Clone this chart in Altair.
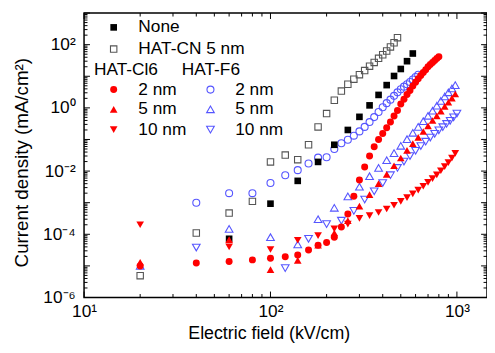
import altair as alt
import pandas as pd

# Electric field (kV/cm) and current density (mA/cm^2)
none_x = [60, 100, 140, 180, 220, 260, 300, 340, 380, 420, 460, 500, 540, 580]
none_y = [7.2e-5, 9.3e-4, 4.9e-3, 1.95e-2, 6.8e-2, 0.20, 0.52, 1.2, 2.57, 5.25,
          10.2, 17, 30, 52.5]

cn_x = [20, 40, 60, 80, 100, 120, 140, 160, 180, 200, 220, 240, 260, 280, 300,
        320, 340, 360, 380, 400, 420, 440, 460, 480]
cn_y = [4.9e-6, 1.1e-4, 4.7e-4, 1.1e-3, 1.95e-2, 3.2e-2, 2.3e-2, 6.8e-2, 0.25,
        0.66, 1.74, 3.4, 5.6, 8.1, 11.2, 15.1, 20.9, 27.5, 37, 48, 63, 85, 115, 166]

cl2_x = [20, 40, 60, 80, 100, 120, 140, 160, 180, 200, 220, 240, 260, 280, 300,
         320, 340, 360, 380, 400, 420, 440, 460, 480, 500, 520, 540, 560, 580, 600,
         620, 640, 660, 680, 700, 720, 740, 760, 780, 800]
cl2_y = [1.0e-5, 1.23e-5, 1.38e-5, 1.55e-5, 1.74e-5, 1.95e-5, 2.2e-5, 3.2e-5, 4.5e-5, 5.5e-5,
         8.1e-5, 1.7e-4, 4.4e-4, 1.6e-3, 5.2e-3, 1.35e-2, 3.0e-2, 5.9e-2, 0.10, 0.155,
         0.234, 0.355, 0.55, 0.83, 1.32, 1.86, 2.63, 3.55, 4.9, 6.46,
         8.3, 10.5, 13.2, 16.2, 20, 23.4, 27.5, 31.6, 36.3, 41.7]

f2_x = [40, 60, 80, 100, 120, 140, 160, 180, 200, 220, 240, 260, 280, 300, 320,
        340, 360, 380, 400, 420, 440, 460, 480, 500, 520, 540, 560, 580, 600, 620]
f2_y = [1.0e-3, 2.0e-3, 2.0e-3, 4.2e-3, 7.4e-3, 1.07e-2, 1.74e-2, 2.66e-2, 2.75e-2, 5.0e-2,
        7.6e-2, 9.8e-2, 0.132, 0.18, 0.25, 0.355, 0.51, 0.74, 1.05, 1.41,
        1.82, 2.4, 3.1, 3.9, 4.7, 5.6, 6.6, 7.9, 9.5, 11.2]

tri_x = [20, 60, 100, 140, 180, 220, 260, 300, 340, 380, 420, 460, 500, 540, 580,
         620, 660, 700, 740, 780, 820, 860, 900, 940, 980]
cl5_y = [1.3e-5, 6.8e-5, 7.6e-6, 1.5e-5, 4.5e-5, 1.1e-4, 2.7e-4, 7.8e-4, 1.8e-3, 4.0e-3,
         7.9e-3, 1.48e-2, 2.6e-2, 4.5e-2, 7.4e-2, 0.117, 0.178, 0.27, 0.40, 0.56,
         0.79, 1.12, 1.51, 2.04, 2.75]
cl10_y = [2.0e-4, 4.0e-5, 3.3e-5, 6.5e-5, 9.1e-5, 1.48e-4, 2.1e-4, 3.2e-4, 3.9e-4, 4.9e-4,
          6.3e-4, 8.3e-4, 1.1e-3, 1.45e-3, 1.9e-3, 2.5e-3, 3.3e-3, 4.4e-3, 5.75e-3, 7.6e-3,
          1.02e-2, 1.38e-2, 1.86e-2, 2.57e-2, 3.63e-2]
f5_y = [1.0e-5, 1.48e-4, 8.1e-5, 4.8e-5, 3.0e-4, 6.9e-4, 1.58e-3, 3.2e-3, 6.9e-3, 1.26e-2,
        2.2e-2, 3.7e-2, 6.3e-2, 0.102, 0.162, 0.25, 0.38, 0.56, 0.81, 1.17,
        1.66, 2.29, 3.1, 4.1, 5.25]

f10_x = [40, 120, 160, 200, 240, 280, 320, 360, 400, 440, 480, 520, 560, 600, 640,
         680, 720, 760, 800, 840, 880, 920, 960, 1000]
f10_y = [3.8e-5, 8.5e-6, 7.2e-5, 2.1e-4, 2.7e-4, 5.5e-4, 1.26e-3, 2.3e-3, 4.2e-3, 7.4e-3,
         1.26e-2, 2.0e-2, 3.0e-2, 4.4e-2, 6.2e-2, 8.5e-2, 0.115, 0.151, 0.195, 0.245,
         0.31, 0.39, 0.50, 0.66]

x_labels = ["10\u00b9", "10\u00b2", "10\u00b3"]
y_labels = ["10\u207b\u2076", "10\u207b\u2075", "10\u207b\u2074", "10\u207b\u00b3",
            "10\u207b\u00b2", "10\u207b\u00b9", "10\u2070", "10\u00b9", "10\u00b2", "10\u00b3"]

W, H = 408, 288
FONT = "Liberation Sans"
RED = "#ff0000"
BLUE = "#5555ff"
GRAY = "#555555"

xs = alt.Scale(type="log", domain=[10, 1450], nice=False)
ys = alt.Scale(type="log", domain=[1e-6, 1e3], nice=False)

xlab_expr = "[" + ",".join("'%s'" % s for s in x_labels) + "][round(log(datum.value)/LN10)-1]"
ylab_expr = "[" + ",".join("'%s'" % s for s in y_labels) + "][round(log(datum.value)/LN10)+6]"

xaxis = alt.Axis(values=[10, 100, 1000], labelExpr=xlab_expr, title="Electric field (kV/cm)",
                 tickSize=0, domain=False, grid=False, labelFlush=False,
                 labelFont=FONT, labelFontSize=17.5, labelColor="black", labelPadding=5,
                 titleFont=FONT, titleFontSize=18, titleFontWeight="normal", titleColor="black",
                 titleX=187, titleY=37, titleBaseline="middle", titleAlign="center")
yaxis = alt.Axis(values=[1e-6, 1e-4, 1e-2, 1, 100], labelExpr=ylab_expr,
                 title="Current density (mA/cm\u00b2)",
                 tickSize=0, domain=False, grid=False, labelFlush=False,
                 labelFont=FONT, labelFontSize=17.5, labelColor="black", labelPadding=9,
                 titleFont=FONT, titleFontSize=19, titleFontWeight="normal", titleColor="black",
                 titleX=-63, titleY=151, titleBaseline="middle", titleAlign="center")


def X():
    return alt.X("x:Q", scale=xs, axis=xaxis)


def Y():
    return alt.Y("y:Q", scale=ys, axis=yaxis)


def series(xv, yv, shape, color, filled, size):
    df = pd.DataFrame({"x": xv, "y": yv})
    return alt.Chart(df).mark_point(shape=shape, filled=filled, color=color, size=size,
                                    opacity=1, strokeWidth=1.1).encode(x=X(), y=Y())


# inward tick marks on all four sides
x_major = [10, 100, 1000]
x_minor = [d * m for m in (10, 100) for d in range(2, 10)]
y_major = [10.0 ** k for k in range(-6, 4)]
y_minor = [d * 10.0 ** k for k in range(-6, 3) for d in range(2, 10)]


def xticks(vals, y1, y2):
    return alt.Chart(pd.DataFrame({"x": vals})).mark_rule(color="black", strokeWidth=1).encode(
        x=X(), y=alt.value(y1), y2=alt.value(y2))


def yticks(vals, x1, x2):
    return alt.Chart(pd.DataFrame({"y": vals})).mark_rule(color="black", strokeWidth=1).encode(
        y=Y(), x=alt.value(x1), x2=alt.value(x2))


ticks = [
    xticks(x_major, H, H - 6), xticks(x_minor, H, H - 3.5),
    xticks(x_major, 0, 6), xticks(x_minor, 0, 3.5),
    yticks(y_major, 0, 6), yticks(y_minor, 0, 3.5),
    yticks(y_major, W, W - 6), yticks(y_minor, W, W - 3.5),
]

one = pd.DataFrame({"a": [0]})


def lpt(px, py, shape, color, filled, size):
    return alt.Chart(one).mark_point(shape=shape, filled=filled, color=color, size=size,
                                     opacity=1, strokeWidth=1.1).encode(
        x=alt.value(px), y=alt.value(py))


def ltxt(px, py, s):
    return alt.Chart(one).mark_text(align="left", baseline="middle", font=FONT, fontSize=17.5,
                                    color="black").encode(
        x=alt.value(px), y=alt.value(py), text=alt.value(s))


legend = [
    lpt(30, 14.5, "square", "black", True, 45), ltxt(55, 14.5, "None"),
    lpt(30, 36.5, "square", GRAY, False, 42), ltxt(55, 36.5, "HAT-CN 5 nm"),
    ltxt(10, 57.5, "HAT-Cl6"), ltxt(99, 57.5, "HAT-F6"),
    lpt(30, 77.5, "circle", RED, True, 50), ltxt(55, 77.5, "2 nm"),
    lpt(30, 97.5, "triangle-up", RED, True, 60), ltxt(55, 97.5, "5 nm"),
    lpt(30, 118, "triangle-down", RED, True, 60), ltxt(55, 118, "10 nm"),
    lpt(128, 77.5, "circle", BLUE, False, 50), ltxt(153, 77.5, "2 nm"),
    lpt(128, 97.5, "triangle-up", BLUE, False, 60), ltxt(153, 97.5, "5 nm"),
    lpt(128, 118, "triangle-down", BLUE, False, 60), ltxt(153, 118, "10 nm"),
]

data_layers = [
    series(f2_x, f2_y, "circle", BLUE, False, 50),
    series(tri_x, f5_y, "triangle-up", BLUE, False, 60),
    series(f10_x, f10_y, "triangle-down", BLUE, False, 60),
    series(cn_x, cn_y, "square", GRAY, False, 42),
    series(none_x, none_y, "square", "black", True, 45),
    series(cl2_x, cl2_y, "circle", RED, True, 50),
    series(tri_x, cl5_y, "triangle-up", RED, True, 60),
    series(tri_x, cl10_y, "triangle-down", RED, True, 60),
]

chart = alt.layer(*data_layers, *ticks, *legend).properties(
    width=W, height=H,
    autosize=alt.AutoSizeParams(type="none"),
    padding={"left": 77, "top": 3, "right": 0, "bottom": 48},
    background="white",
).configure_view(stroke="black", strokeWidth=1.5)

chart.save("out.html", embed_options={"renderer": "svg", "actions": False})
